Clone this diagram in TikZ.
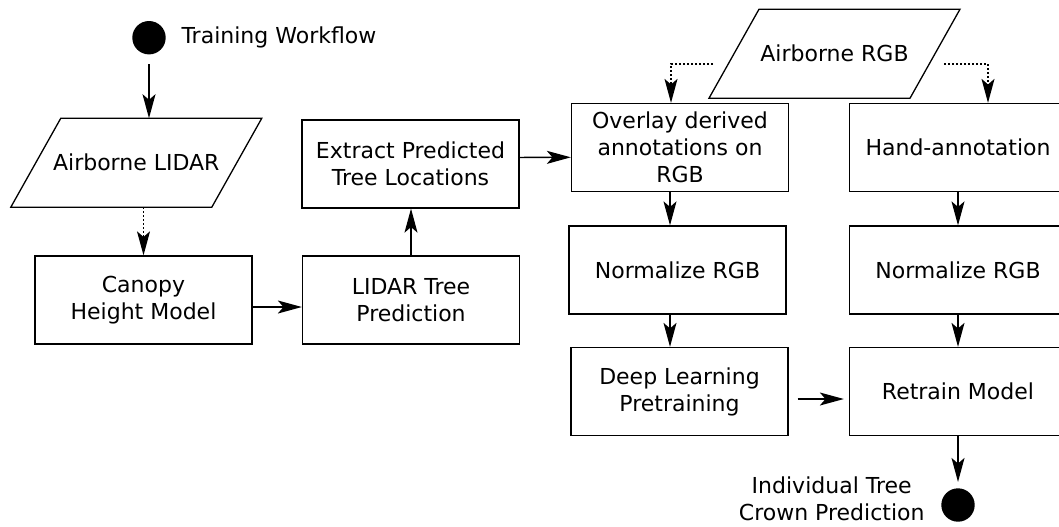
\documentclass[tikz,border=0pt]{standalone}
\usepackage{fontspec}
\setmainfont{DejaVu Sans}
\usetikzlibrary{arrows.meta, calc, positioning, shapes.geometric}

\begin{document}
\begin{tikzpicture}[x=0.5pt, y=-0.5pt, >={Stealth[length=12pt, width=6.5pt, inset=2.8pt]},
    font=\fontsize{11}{13.5}\selectfont,
    stepbox/.style={draw, line width=0.65pt, rectangle, minimum width=108.5pt, minimum height=44pt, align=center, inner sep=2pt},
    databox/.style={rectangle, minimum width=100.5pt, minimum height=44.5pt, outer sep=0pt, inner sep=2pt},
    outline/.style={line width=0.65pt, line join=miter},
    terminal/.style={circle, fill=black, minimum size=16.7pt, inner sep=0pt},
    flow/.style={->, line width=0.65pt},
    feed/.style={->, line width=0.65pt, dash pattern=on 1pt off 1pt}]

        \useasboundingbox (0,0) rectangle (1059,526);
        \clip (0,0) rectangle (1059,526);

        % LIDAR branch
        \node[terminal] (start) at (149, 37.7) {};
        \node[right=7.5pt of start, inner sep=0pt] (title) {Training Workflow};
        \node[databox] (lidar) at (136.3, 162.7) {Airborne LIDAR};
        \node[stepbox] (chm) at (143.5, 300) {Canopy\\Height Model};
        \node[stepbox] (ltp) at (411, 300) {LIDAR Tree\\Prediction};
        \node[stepbox] (extract) at (410.5, 164) {Extract Predicted\\Tree Locations};

        % RGB branch
        \node[databox] (rgb) at (834.5, 53.7) {Airborne RGB};
        \node[stepbox] (overlay) at (680, 147.5) {Overlay derived\\annotations on\\RGB};
        \node[stepbox] (hand) at (958, 147.5) {Hand-annotation};
        \node[stepbox] (normL) at (677.5, 270) {Normalize RGB};
        \node[stepbox] (normR) at (958, 270) {Normalize RGB};
        \node[stepbox] (deep) at (679.5, 391.5) {Deep Learning\\Pretraining};
        \node[stepbox] (retrain) at (958, 391.5) {Retrain Model};
        \node[terminal] (finish) at (958, 505) {};
        \node[left=8pt of finish, yshift=3pt, align=center, inner sep=0pt] (result) {Individual Tree\\Crown Prediction};

        % slanted input shapes
        \foreach \inp in {lidar, rgb}
            \draw[outline] ([xshift=-12.5pt]\inp.south west) -- ([xshift=12.5pt]\inp.north west)
                -- ([xshift=12.5pt]\inp.north east) -- ([xshift=-12.5pt]\inp.south east) -- cycle;

        \draw[flow, shorten <=4.8pt] (start.south) -- (start.south |- lidar.north);
        \draw[feed] (chm.north |- lidar.south) -- (chm.north);
        \draw[flow] ([yshift=-3.5pt]chm.east) -- ([yshift=-3.5pt]ltp.west);
        \draw[flow] (ltp.north) -- (ltp.north |- extract.south);
        \draw[flow] ([yshift=3.3pt]extract.east) -- ([yshift=-4.9pt]overlay.west);

        % dotted feeds from the RGB input
        \draw[feed] ($(rgb.center)+(-121.5,10.3)$) -| ($(overlay.north)+(-9,0)$);
        \draw[feed] ($(rgb.center)+(109.5,10.3)$) -| ($(hand.north)+(30,0)$);

        \draw[flow] ($(overlay.south)+(-10,0)$) -- ($(normL.north)+(-7.5,0)$);
        \draw[flow] ($(normL.south)+(-7.5,0)$) -- ($(deep.north)+(-9.5,0)$);
        \draw[flow] (hand.south) -- (normR.north);
        \draw[flow] (normR.south) -- (retrain.north);
        \draw[flow, shorten <=4.5pt, shorten >=2.5pt] ($(deep.east)+(0,7.5)$) -- ($(retrain.west)+(0,7.5)$);
        \draw[flow, shorten >=3pt] (retrain.south) -- (finish.north);

    \end{tikzpicture}
\end{document}
